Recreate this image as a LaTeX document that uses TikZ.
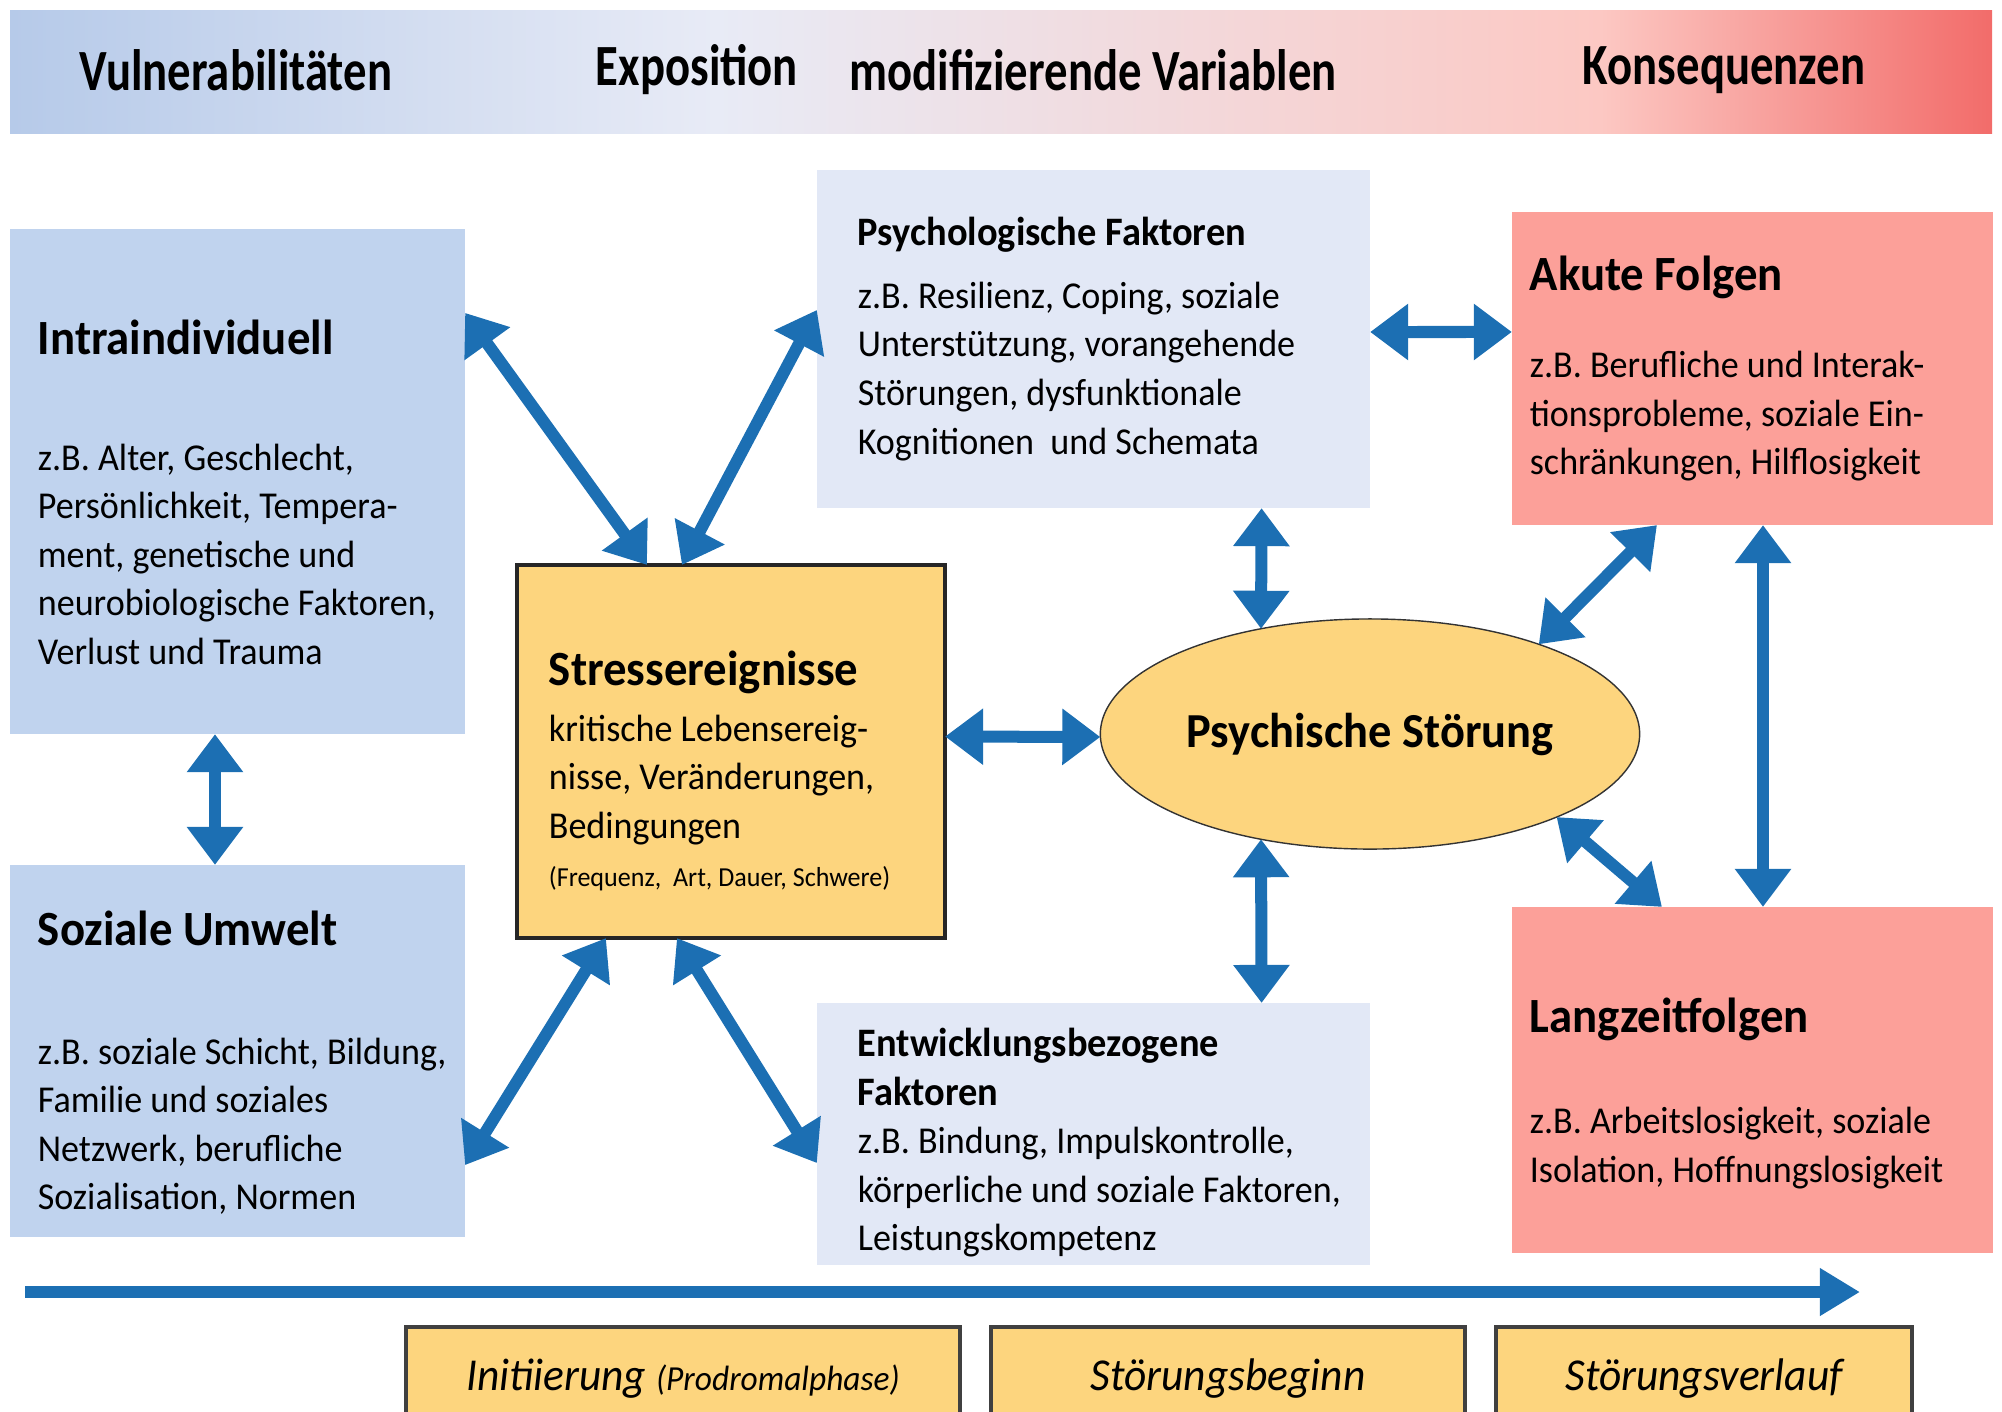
\documentclass[tikz,border=0pt]{standalone}
\usepackage{fontspec}
\setmainfont{Carlito}[FakeStretch=0.95]
\newfontfamily\bannerfont[FakeStretch=0.8]{Carlito}
\usepackage{tikz}
\usetikzlibrary{shapes.geometric, arrows.meta, positioning}

\definecolor{vulblue}{RGB}{192,211,238}
\definecolor{modblue}{RGB}{226,232,246}
\definecolor{stressyellow}{RGB}{253,213,126}
\definecolor{konsred}{RGB}{252,160,153}
\definecolor{arrowblue}{RGB}{28,111,179}
\definecolor{bannerleft}{RGB}{182,202,233}
\definecolor{bannermid}{RGB}{232,235,246}
\definecolor{bannerrose}{RGB}{243,218,220}
\definecolor{bannerpink}{RGB}{252,200,195}
\definecolor{bannersalmon}{RGB}{249,170,165}
\definecolor{bannerright}{RGB}{242,108,106}

\newcommand{\boxhead}[1]{{\fontsize{14}{17}\selectfont\bfseries #1}}
\newcommand{\subhead}[1]{{\fontsize{11.5}{14}\selectfont\bfseries #1}}

\begin{document}
\begin{tikzpicture}[x=0.01cm, y=-0.01cm,
    padleft/.style={execute at begin node={\leftskip=#1\relax\spaceskip=0pt\relax\xspaceskip=0pt\relax}},
    box/.style={rectangle, outer sep=0pt, inner xsep=0.05cm, inner ysep=0pt, align=left,
        font=\fontsize{10.8}{13.8}\selectfont},
    vulbox/.style={box, fill=vulblue, minimum width=4.55cm, text width=4.45cm, padleft=0.23cm},
    modbox/.style={box, fill=modblue, minimum width=5.53cm, text width=5.43cm, padleft=0.36cm},
    konsbox/.style={box, fill=konsred, minimum width=4.81cm, text width=4.71cm, padleft=0.13cm},
    bannertext/.style={font=\bannerfont\fontsize{16.6}{19}\selectfont\bfseries},
    phasebox/.style={rectangle, draw=black!75, line width=1pt, fill=stressyellow, outer sep=0pt,
        minimum height=1.03cm, font=\fontsize{13}{15}\selectfont\itshape},
    dblarrow/.style={{Triangle[length=0.38cm,width=0.54cm]}-{Triangle[length=0.38cm,width=0.54cm]},
        line width=0.12cm, draw=arrowblue}]

    \clip (0,0) rectangle (2002,1411);

    \shade [left color=bannerleft, right color=bannermid] (10,10) rectangle (716,133);
    \shade [left color=bannermid, middle color=bannerrose, right color=bannerpink] (715,10) rectangle (1601,133);
    \shade [left color=bannerpink, middle color=bannersalmon, right color=bannerright] (1600,10) rectangle (1992,133);
    \node (vuln) at (236,70) [bannertext] {Vulnerabilitäten};
    \node (expo) at (697,70) [bannertext] {Exposition};
    \node (modvar) at (1093,70) [bannertext] {modifizierende Variablen};
    \node (kons) at (1724,70) [bannertext] {Konsequenzen};

    \node (intra) at (237.5,481.5) [vulbox, minimum height=5.05cm, text height=16pt]
        {\boxhead{Intraindividuell}\\[19pt]
         z.B. Alter, Geschlecht,\\ Persönlichkeit, Tempera-\\ ment, genetische und\\
         neurobiologische Faktoren,\\ Verlust und Trauma};
    \node (sozial) at (237.5,1051) [vulbox, minimum height=3.72cm, text height=16.5pt]
        {\boxhead{Soziale Umwelt}\\[20pt]
         z.B. soziale Schicht, Bildung,\\ Familie und soziales\\ Netzwerk, berufliche\\
         Sozialisation, Normen};
    \node (stress) at (731,751.5) [box, draw=black!85, line width=1pt, fill=stressyellow,
        minimum width=4.28cm, minimum height=3.73cm, text width=4.18cm, padleft=0.27cm, text height=21pt]
        {\boxhead{Stressereignisse}\\[2pt]
         kritische Lebensereig-\\ nisse, Veränderungen,\\ Bedingungen\\
         {\fontsize{7.8}{10}\selectfont (Frequenz,\ \ Art, Dauer, Schwere)}};
    \node (psyfak) at (1093.5,339) [modbox, minimum height=3.38cm]
        {\subhead{Psychologische Faktoren}\\[4pt]
         z.B. Resilienz, Coping, soziale\\ Unterstützung, vorangehende\\
         Störungen, dysfunktionale\\ Kognitionen\ \ und Schemata};
    \node (entw) at (1093.5,1134) [modbox, minimum height=2.62cm, text height=13pt]
        {\subhead{Entwicklungsbezogene}\\ \subhead{Faktoren}\\
         z.B. Bindung, Impulskontrolle,\\ körperliche und soziale Faktoren,\\
         Leistungskompetenz};
    \node (akut) at (1752.5,368.5) [konsbox, minimum height=3.13cm]
        {\boxhead{Akute Folgen}\\[11pt]
         z.B. Berufliche und Interak-\\ tionsprobleme, soziale Ein-\\
         schränkungen, Hilflosigkeit};
    \node (lang) at (1752.5,1080) [konsbox, minimum height=3.46cm, text height=17.5pt]
        {\boxhead{Langzeitfolgen}\\[15pt]
         z.B. Arbeitslosigkeit, soziale\\ Isolation, Hoffnungslosigkeit};
    \node (psy) at (1370,734) [ellipse, draw=black!80, fill=stressyellow, inner sep=0pt, outer sep=0pt,
        minimum width=5.39cm, minimum height=2.3cm, font=\fontsize{13.9}{17}\selectfont\bfseries]
        {Psychische Störung};

    \draw [dblarrow] ([yshift=-0.84cm]intra.north east) -- ([xshift=1.3cm]stress.north west);
    \draw [dblarrow] ([xshift=1.65cm]stress.north west) -- ([yshift=-1.4cm]psyfak.north west);
    \draw [dblarrow] ([xshift=2.05cm]intra.south west) -- ([xshift=2.05cm]sozial.north west);
    \draw [dblarrow] ([yshift=-3cm]sozial.north east) -- ([xshift=0.89cm]stress.south west);
    \draw [dblarrow] ([xshift=1.6cm]stress.south west) -- ([yshift=-1.6cm]entw.north west);
    \draw [dblarrow] ([yshift=0.15cm]stress.east) -- ([yshift=-0.03cm]psy.west);
    \draw [dblarrow] ([xshift=4.445cm]psyfak.south west) -- (psy.136);
    \draw [dblarrow] (psy.224) -- ([xshift=4.445cm]entw.north west);
    \draw [dblarrow] ([yshift=0.07cm]psyfak.east) -- ([yshift=0.365cm]akut.west);
    \draw [dblarrow] (psy.28) -- ([xshift=1.45cm]akut.south west);
    \draw [dblarrow] (psy.336) -- ([xshift=1.5cm]lang.north west);
    \draw [dblarrow] ([xshift=2.51cm]akut.south west) -- ([xshift=2.51cm]lang.north west);

    \coordinate (tstart) at (25,1292);
    \coordinate (tend) at (1860,1292);
    \draw [-{Triangle[length=0.4cm,width=0.45cm]}, line width=0.12cm, arrowblue] (tstart) -- (tend);

    \node (init) at (683,1378.5) [phasebox, minimum width=5.54cm]
        {Initiierung {\fontsize{10}{12}\selectfont (Prodromalphase)}};
    \node (beginn) at (1228,1378.5) [phasebox, minimum width=4.74cm] {Störungsbeginn};
    \node (verlauf) at (1704,1378.5) [phasebox, minimum width=4.16cm] {Störungsverlauf};
\end{tikzpicture}
\end{document}
